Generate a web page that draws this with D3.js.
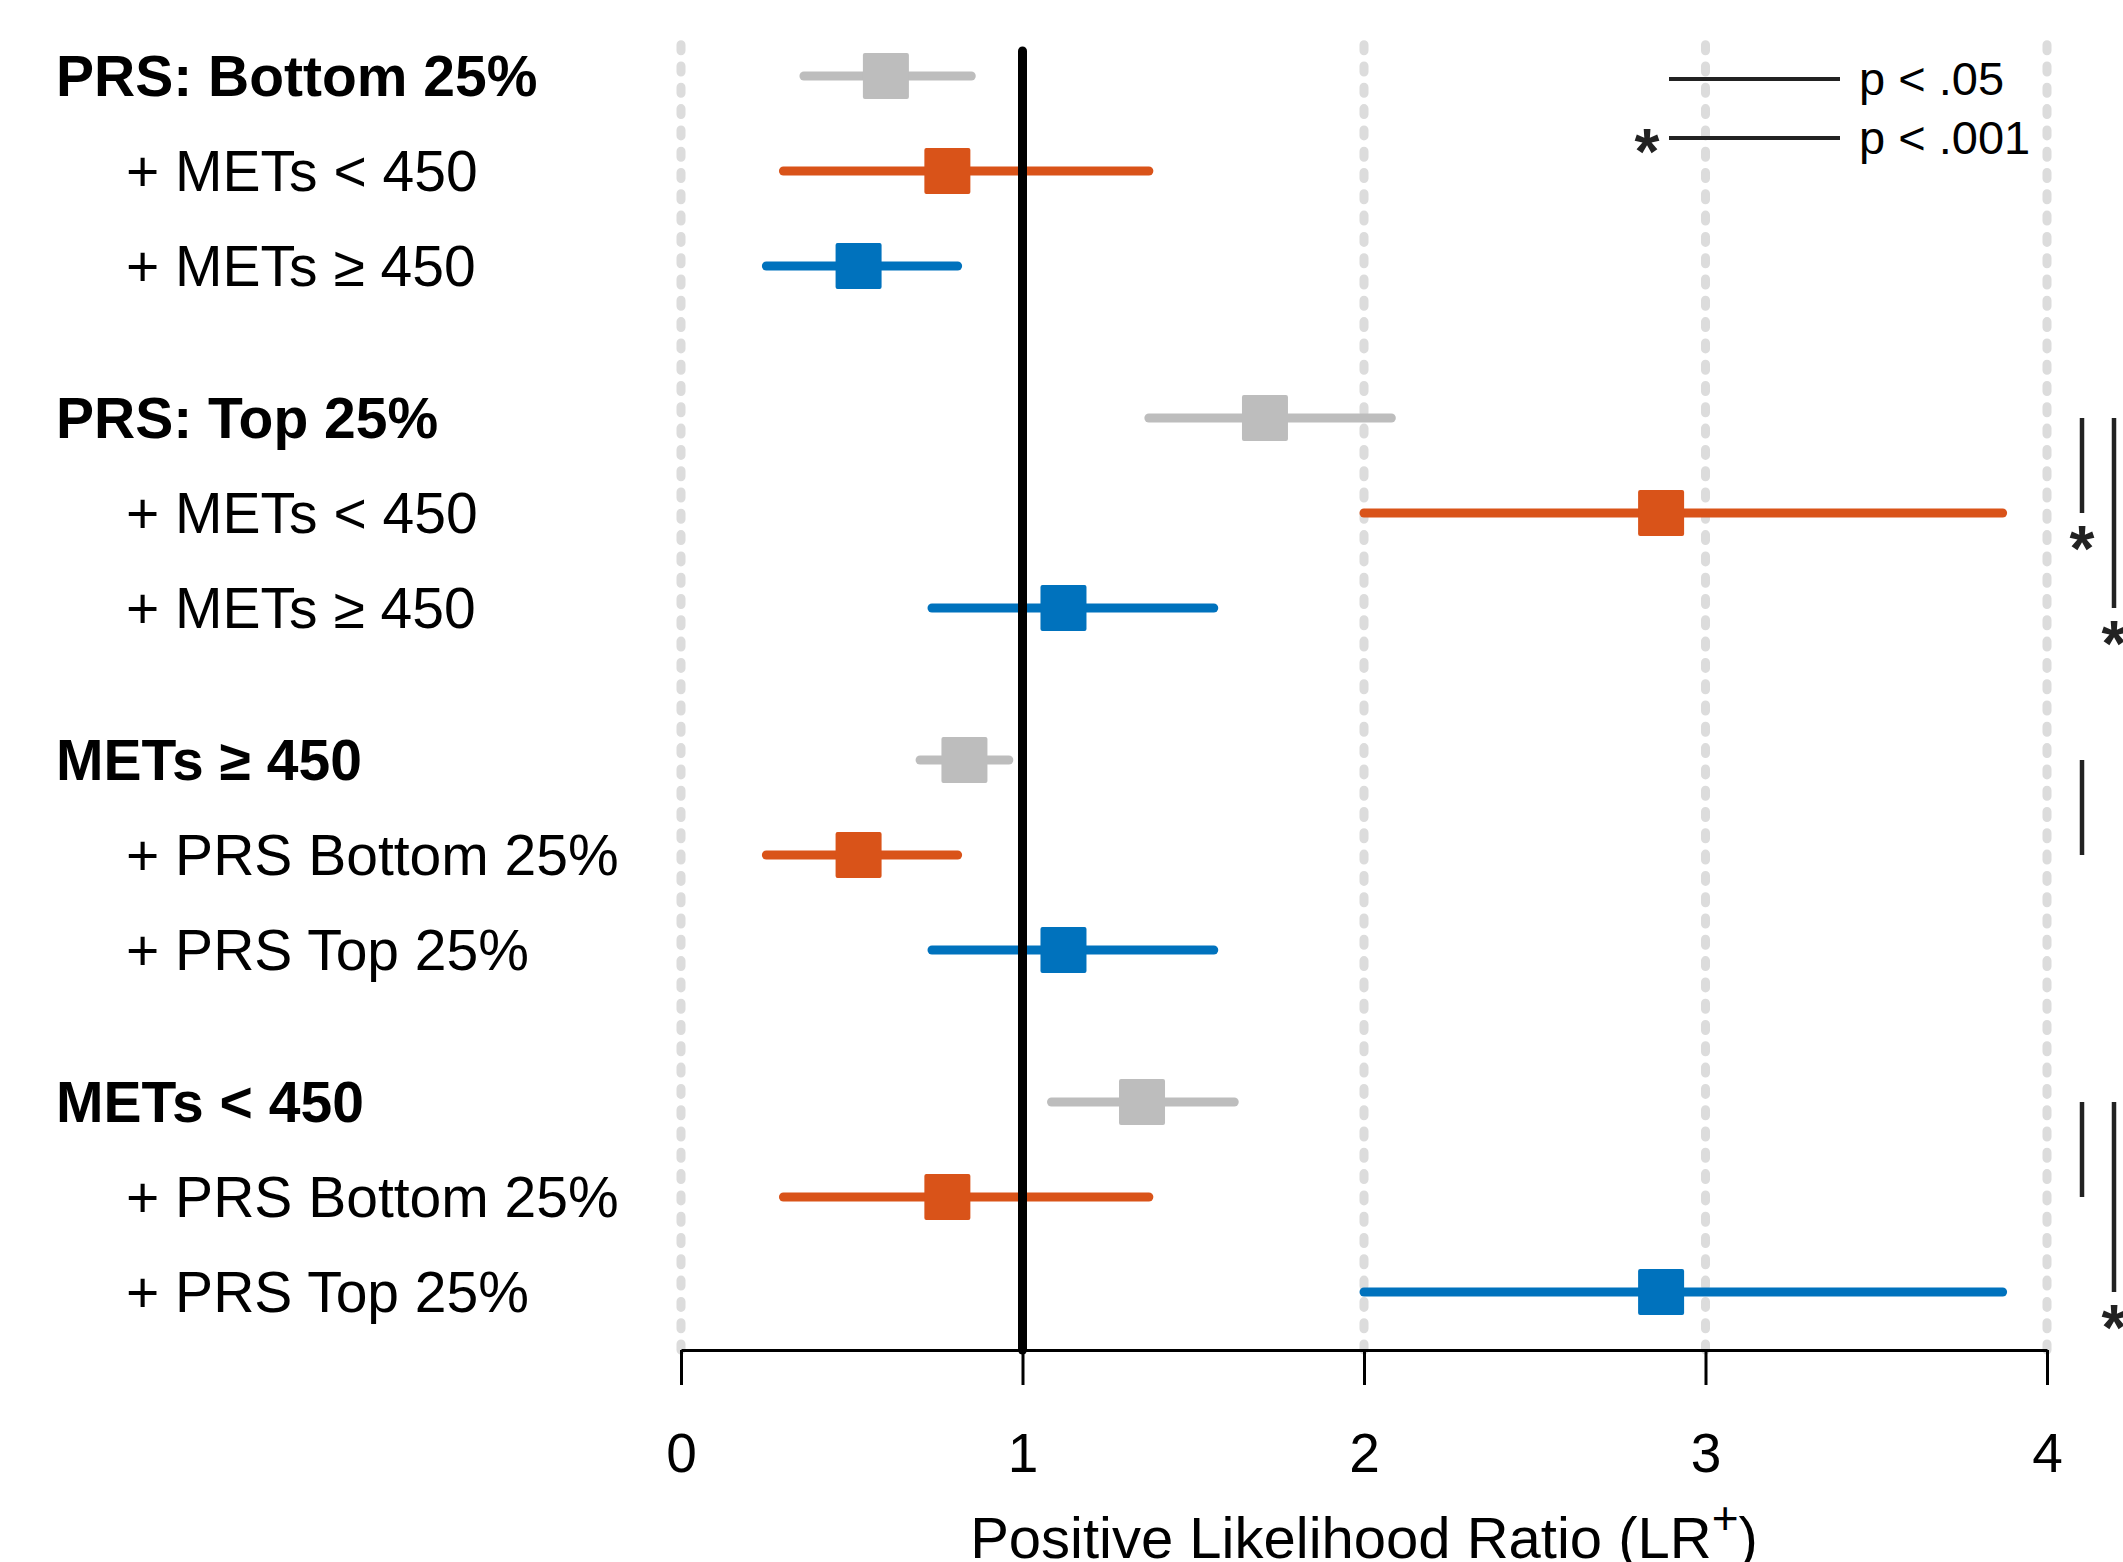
<!DOCTYPE html>
<html>
<head>
<meta charset="utf-8">
<script src="https://cdn.jsdelivr.net/npm/d3@7"></script>
<style>
  html, body { margin: 0; padding: 0; background: #fff; }
  svg { display: block; font-family: "Liberation Sans", Arial, Helvetica, sans-serif; }
</style>
</head>
<body>
<svg id="chart" width="2123" height="1562"></svg>
<script>
// Positive likelihood ratio (LR+) by polygenic risk score group and activity level (METs)
const groupTitles = ["PRS: Bottom 25%", "PRS: Top 25%", "METs \u2265 450", "METs < 450"];
const subLabels = [
  ["+ METs < 450", "+ METs \u2265 450"],
  ["+ METs < 450", "+ METs \u2265 450"],
  ["+ PRS Bottom 25%", "+ PRS Top 25%"],
  ["+ PRS Bottom 25%", "+ PRS Top 25%"]
];
// per group: [group alone, first subgroup, second subgroup]
const lrEstimate = [[0.60, 0.78, 0.52], [1.71, 2.87, 1.12], [0.83, 0.52, 1.12], [1.35, 0.78, 2.87]];
const lrLower    = [[0.36, 0.30, 0.25], [1.37, 2.00, 0.735], [0.70, 0.25, 0.735], [1.085, 0.30, 2.00]];
const lrUpper    = [[0.85, 1.37, 0.81], [2.08, 3.87, 1.56], [0.96, 0.81, 1.56], [1.62, 1.37, 3.87]];
const seriesColors = ["#bdbdbd", "#d95319", "#0072bd"];
const xTicks = [0, 1, 2, 3, 4];
const refValue = 1;
// significance brackets: group, subgroup row compared with the group row, p level
const compGroup = [1, 1, 2, 3, 3];
const compRow   = [1, 2, 1, 1, 2];
const compLevel = [".001", ".001", ".05", ".05", ".001"];
const legendLevels = [".05", ".001"];

const svg = d3.select("#chart");
const font = 57;
const rowsPerGroup = 3, groupGap = 0.6;

const x = d3.scaleLinear().domain([0, 4]).range([681, 2047]);
const y = d3.scaleLinear().domain([0, 1]).range([76, 171]);
const slot = (g, r) => g * (rowsPerGroup + groupGap) + r;

const axisY = 1350, plotTop = 44;

// rows flattened
const rows = [];
groupTitles.forEach((t, g) => {
  for (let r = 0; r < rowsPerGroup; r++) {
    rows.push({
      g, r,
      label: r === 0 ? t : subLabels[g][r - 1],
      est: lrEstimate[g][r], lo: lrLower[g][r], hi: lrUpper[g][r],
      color: seriesColors[r]
    });
  }
});

// dotted grid lines
svg.append("g").selectAll("line")
  .data(xTicks.filter(v => v !== refValue))
  .join("line")
  .attr("x1", d => x(d)).attr("x2", d => x(d))
  .attr("y1", axisY).attr("y2", plotTop)
  .attr("stroke", "#dcdcdc").attr("stroke-width", 9)
  .attr("stroke-linecap", "round")
  .attr("stroke-dasharray", "6 15.3");

// x axis
const axis = d3.axisBottom(x).tickValues(xTicks).tickFormat(d3.format("d"))
  .tickSize(35).tickSizeOuter(0).tickPadding(10);
const ax = svg.append("g").attr("transform", `translate(0,${axisY})`).call(axis);
ax.select(".domain").attr("stroke", "#000").attr("stroke-width", 3);
ax.selectAll(".tick line").attr("stroke", "#000").attr("stroke-width", 3);
ax.selectAll(".tick text")
  .attr("fill", "#000").attr("font-size", 55)
  .attr("font-family", "\"Liberation Sans\", Arial, sans-serif")
  .attr("dy", null).attr("y", 122);

// axis title
const title = svg.append("text")
  .attr("x", x(2)).attr("y", 1558)
  .attr("text-anchor", "middle").attr("font-size", 58).attr("fill", "#000");
title.append("tspan").text("Positive Likelihood Ratio (LR");
title.append("tspan").attr("font-size", 46).attr("dy", -24).text("+");
title.append("tspan").attr("dy", 24).text(")");

// confidence interval lines
svg.append("g").selectAll("line")
  .data(rows).join("line")
  .attr("x1", d => x(d.lo)).attr("x2", d => x(d.hi))
  .attr("y1", d => y(slot(d.g, d.r))).attr("y2", d => y(slot(d.g, d.r)))
  .attr("stroke", d => d.color).attr("stroke-width", 9)
  .attr("stroke-linecap", "round");

// reference line at LR+ = 1
svg.append("line")
  .attr("x1", x(refValue)).attr("x2", x(refValue))
  .attr("y1", 51).attr("y2", axisY)
  .attr("stroke", "#000").attr("stroke-width", 9)
  .attr("stroke-linecap", "round");

// point estimates
const sq = 46;
svg.append("g").selectAll("rect")
  .data(rows).join("rect")
  .attr("x", d => x(d.est) - sq / 2)
  .attr("y", d => y(slot(d.g, d.r)) - sq / 2)
  .attr("width", sq).attr("height", sq)
  .attr("rx", 2).attr("fill", d => d.color);

// row labels
svg.append("g").selectAll("text")
  .data(rows).join("text")
  .attr("x", d => d.r === 0 ? 56 : 126)
  .attr("y", d => y(slot(d.g, d.r)) + 20)
  .attr("font-size", font)
  .attr("font-weight", d => d.r === 0 ? "bold" : "normal")
  .attr("fill", "#000")
  .text(d => d.label);

// asterisk marker centred on (cx, cy)
function star(sel, cx, cy) {
  sel.append("text")
    .attr("x", cx).attr("y", cy + 36)
    .attr("text-anchor", "middle")
    .attr("font-size", 64).attr("font-weight", "bold")
    .attr("fill", "#222").text("*");
}

// significance brackets
const brk = svg.append("g");
compGroup.forEach((g, i) => {
  const bx = x(4) + 35 + (compRow[i] - 1) * 32;
  const y0 = y(slot(g, 0)), y1 = y(slot(g, compRow[i]));
  brk.append("line")
    .attr("x1", bx).attr("x2", bx).attr("y1", y0).attr("y2", y1)
    .attr("stroke", "#222").attr("stroke-width", 4.5);
  if (compLevel[i] === ".001") star(brk, bx, y1 + 22);
});

// legend
const leg = svg.append("g");
legendLevels.forEach((lv, i) => {
  const ly = 79 + i * 59;
  leg.append("line")
    .attr("x1", 1669).attr("x2", 1840).attr("y1", ly).attr("y2", ly)
    .attr("stroke", "#222").attr("stroke-width", 4);
  leg.append("text")
    .attr("x", 1859).attr("y", ly + 16)
    .attr("font-size", 47).attr("fill", "#000")
    .text(`p < ${lv}`);
  if (lv === ".001") star(leg, 1647, ly);
});
</script>
</body>
</html>
